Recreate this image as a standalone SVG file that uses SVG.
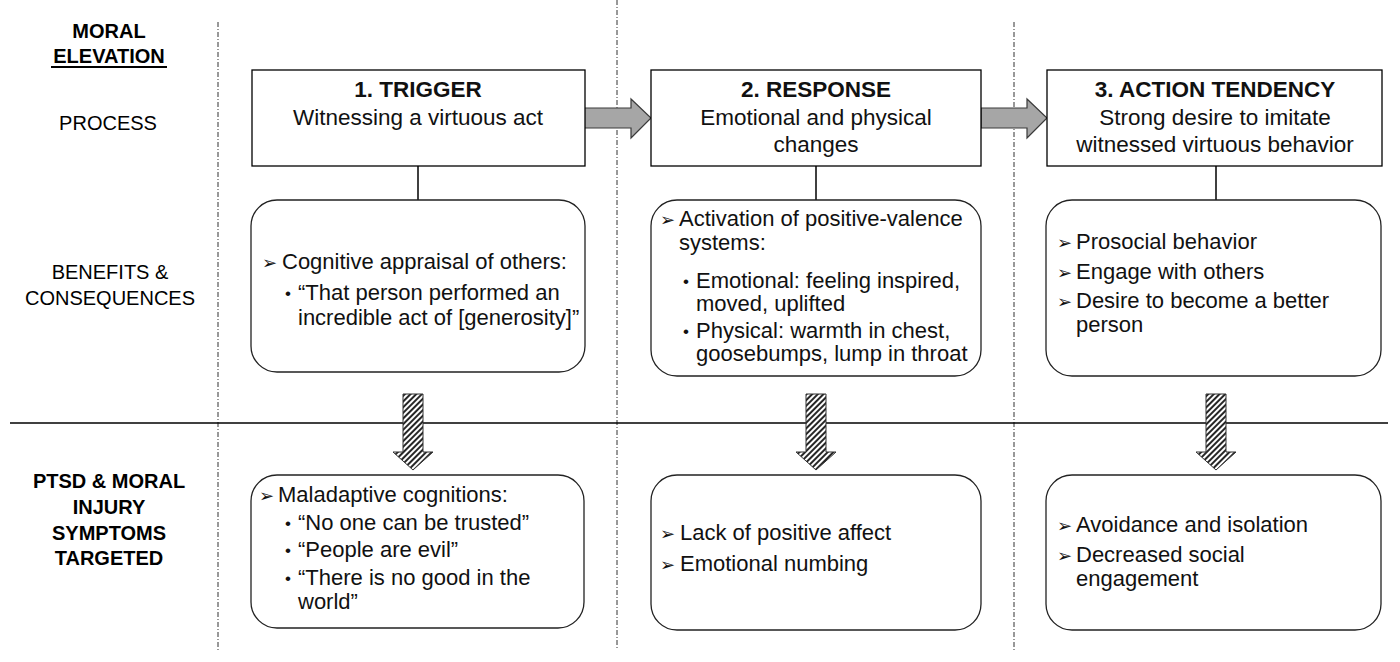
<svg xmlns="http://www.w3.org/2000/svg" width="1400" height="662" viewBox="0 0 1400 662">
<defs>
<style>
.lbl{font-family:"Liberation Sans",Arial,sans-serif;font-size:20px;fill:#000;text-anchor:middle}
.b{font-weight:bold}
.t{font-family:"Liberation Sans",Arial,sans-serif;font-size:22px;fill:#111}
.h{font-size:22.5px}
.c{text-anchor:middle}
.bu{font-family:"Liberation Sans",Arial,sans-serif;font-size:17px;fill:#111}
.box{fill:#fff;stroke:#000;stroke-width:1.3}
.rbox{fill:#fff;stroke:#222;stroke-width:1.3}
.ar{font-family:"DejaVu Sans",sans-serif;font-size:18px;fill:#111}
.div{stroke:#333;stroke-width:1;stroke-dasharray:5 2 1 2;fill:none}
.conn{stroke:#000;stroke-width:1.5;fill:none}
.harr{fill:#a6a6a6;stroke:#3a3a3a;stroke-width:1.2}
.darr{fill:url(#hatch);stroke:#333;stroke-width:1}
</style>
<pattern id="hatch" width="4" height="4" patternUnits="userSpaceOnUse" patternTransform="rotate(45)">
<rect width="4" height="4" fill="#fff"/>
<line x1="1" y1="0" x2="1" y2="4" stroke="#000" stroke-width="1.7"/>
</pattern>
</defs>
<rect width="1400" height="662" fill="#fff"/>

<g id="dividers">
<line class="div" x1="218" y1="22" x2="218" y2="650"/>
<line class="div" x1="617" y1="0" x2="617" y2="650"/>
<line class="div" x1="1014" y1="22" x2="1014" y2="650"/>
<line x1="10" y1="423" x2="1388" y2="423" stroke="#000" stroke-width="1.3"/>
</g>

<g id="row-labels">
<text class="lbl b" x="109" y="38">MORAL</text>
<text class="lbl b" x="109" y="63">ELEVATION</text>
<line x1="51" y1="67" x2="167" y2="67" stroke="#000" stroke-width="2"/>
<text class="lbl" x="108" y="130">PROCESS</text>
<text class="lbl" x="110" y="279">BENEFITS &amp;</text>
<text class="lbl" x="110" y="305">CONSEQUENCES</text>
<text class="lbl b" x="109" y="488">PTSD &amp; MORAL</text>
<text class="lbl b" x="109" y="514">INJURY</text>
<text class="lbl b" x="109" y="540">SYMPTOMS</text>
<text class="lbl b" x="109" y="565">TARGETED</text>
</g>

<g id="connectors">
<line class="conn" x1="418" y1="166" x2="418" y2="200"/>
<line class="conn" x1="816" y1="166" x2="816" y2="200"/>
<line class="conn" x1="1216" y1="166" x2="1216" y2="200"/>
<path class="harr" d="M583,108 H631 V99 L651,118 L631,138 V128 H583 Z"/>
<path class="harr" d="M981,108 H1027 V99 L1047,118 L1027,138 V128 H981 Z"/>
<path class="darr" d="M403,394 H423 V452 H433 L413,470 L393,452 H403 Z"/>
<path class="darr" d="M806,394 H826 V452 H836 L816,470 L796,452 H806 Z"/>
<path class="darr" d="M1206,394 H1226 V452 H1236 L1216,470 L1196,452 H1206 Z"/>
</g>

<g id="trigger">
<rect class="box" x="252" y="70" width="333" height="96"/>
<text class="t h b c" x="418" y="97">1. TRIGGER</text>
<text class="t h c" x="418" y="125">Witnessing a virtuous act</text>
</g>

<g id="response">
<rect class="box" x="651" y="70" width="330" height="96"/>
<text class="t h b c" x="816" y="97">2. RESPONSE</text>
<text class="t h c" x="816" y="125">Emotional and physical</text>
<text class="t h c" x="816" y="152">changes</text>
</g>

<g id="action">
<rect class="box" x="1047" y="70" width="335" height="96"/>
<text class="t h b c" x="1215" y="97">3. ACTION TENDENCY</text>
<text class="t h c" x="1215" y="125">Strong desire to imitate</text>
<text class="t h c" x="1215" y="152">witnessed virtuous behavior</text>
</g>

<g id="benefit-trigger">
<rect class="rbox" x="251" y="200" width="334" height="172" rx="26"/>
<text class="ar" x="262" y="269">➢</text>
<text class="t" x="282" y="269">Cognitive appraisal of others:</text>
<text class="bu" x="285" y="299">•</text>
<text class="t" x="298" y="300">“That person performed an</text>
<text class="t" x="298" y="325">incredible act of [generosity]”</text>
</g>

<g id="benefit-response">
<rect class="rbox" x="651" y="200" width="330" height="176" rx="26"/>
<text class="ar" x="660" y="226">➢</text>
<text class="t" x="679" y="226">Activation of positive-valence</text>
<text class="t" x="679" y="250">systems:</text>
<text class="bu" x="683" y="287">•</text>
<text class="t" x="696" y="288">Emotional: feeling inspired,</text>
<text class="t" x="696" y="311">moved, uplifted</text>
<text class="bu" x="683" y="337">•</text>
<text class="t" x="696" y="338">Physical: warmth in chest,</text>
<text class="t" x="696" y="361">goosebumps, lump in throat</text>
</g>

<g id="benefit-action">
<rect class="rbox" x="1046" y="200" width="335" height="176" rx="26"/>
<text class="ar" x="1057" y="249">➢</text>
<text class="t" x="1076" y="249">Prosocial behavior</text>
<text class="ar" x="1057" y="279">➢</text>
<text class="t" x="1076" y="279">Engage with others</text>
<text class="ar" x="1057" y="308">➢</text>
<text class="t" x="1076" y="308">Desire to become a better</text>
<text class="t" x="1076" y="332">person</text>
</g>

<g id="symptom-trigger">
<rect class="rbox" x="251" y="475" width="333" height="153" rx="26"/>
<text class="ar" x="259" y="502">➢</text>
<text class="t" x="278" y="502">Maladaptive cognitions:</text>
<text class="bu" x="285" y="529">•</text>
<text class="t" x="298" y="530">“No one can be trusted”</text>
<text class="bu" x="285" y="556">•</text>
<text class="t" x="298" y="557">“People are evil”</text>
<text class="bu" x="285" y="584">•</text>
<text class="t" x="298" y="585">“There is no good in the</text>
<text class="t" x="298" y="609">world”</text>
</g>

<g id="symptom-response">
<rect class="rbox" x="651" y="475" width="330" height="155" rx="26"/>
<text class="ar" x="660" y="540">➢</text>
<text class="t" x="680" y="540">Lack of positive affect</text>
<text class="ar" x="660" y="571">➢</text>
<text class="t" x="680" y="571">Emotional numbing</text>
</g>

<g id="symptom-action">
<rect class="rbox" x="1046" y="475" width="335" height="155" rx="26"/>
<text class="ar" x="1057" y="532">➢</text>
<text class="t" x="1076" y="532">Avoidance and isolation</text>
<text class="ar" x="1057" y="562">➢</text>
<text class="t" x="1076" y="562">Decreased social</text>
<text class="t" x="1076" y="586">engagement</text>
</g>
</svg>
